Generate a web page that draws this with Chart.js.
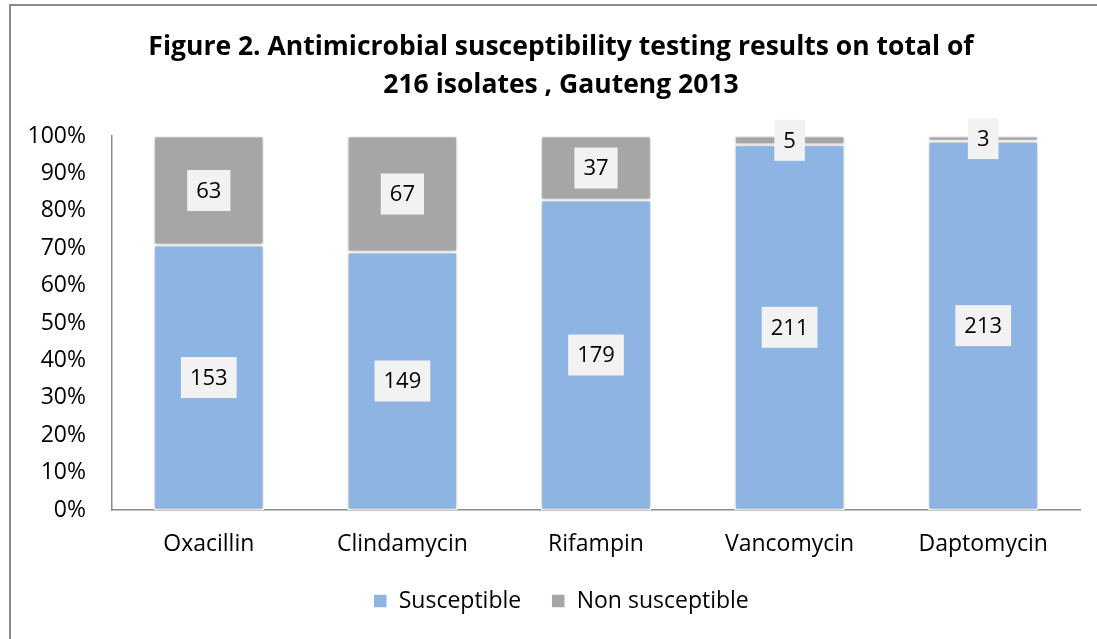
<!DOCTYPE html>
<html lang="en">
<head>
    <meta charset="UTF-8">
    <title>Figure 2</title>
    <script src="https://cdn.jsdelivr.net/npm/chart.js"></script>
    <style>
        body { margin: 0; background: #fff; font-family: 'Open Sans', sans-serif; }
        .wrap { position: relative; width: 1097px; height: 639px; overflow: hidden; }
        .frame { position: absolute; left: 9px; top: 4px; width: 1200px; height: 700px;
                 border-left: 2px solid #8a8a8a; border-top: 2px solid #8a8a8a; }
        canvas { position: absolute; left: 0; top: 0; }
    </style>
</head>
<body>
<div class="wrap">
    <div class="frame"></div>
    <canvas id="chart" width="1097" height="639"></canvas>
</div>
<script>
    const drugs = ['Oxacillin', 'Clindamycin', 'Rifampin', 'Vancomycin', 'Daptomycin'];
    const susceptible = [153, 149, 179, 211, 213];
    const nonSusceptible = [63, 67, 37, 5, 3];
    const totalIsolates = 216;
    const yTicks = [0, 10, 20, 30, 40, 50, 60, 70, 80, 90, 100];

    const pct = arr => arr.map(n => n / totalIsolates * 100);
    const counts = [susceptible, nonSusceptible];
    const FONT = "'Open Sans', sans-serif";

    // y labels are drawn "mirrored" so they are not clipped to the narrow axis box;
    // the widest label is measured so they still end 26px left of the axis line
    const meas = document.createElement('canvas').getContext('2d');
    meas.font = '23px ' + FONT;
    const widestTick = Math.max(...yTicks.map(v => meas.measureText(v + '%').width));

    // shadow behind the bars, like the office chart
    const barShadow = {
        id: 'barShadow',
        beforeDatasetsDraw(chart) {
            const c = chart.ctx;
            c.save();
            c.shadowColor = 'rgba(0,0,0,0.28)';
            c.shadowBlur = 4;
        },
        afterDatasetsDraw(chart) { chart.ctx.restore(); }
    };

    // count labels in light boxes at the middle of each segment
    const boxLabels = {
        id: 'boxLabels',
        afterDatasetsDraw(chart) {
            const c = chart.ctx;
            c.save();
            c.font = '22px ' + FONT;
            c.textAlign = 'center';
            c.textBaseline = 'middle';
            chart.data.datasets.forEach((ds, di) => {
                chart.getDatasetMeta(di).data.forEach((bar, i) => {
                    const txt = String(counts[di][i]);
                    const w = c.measureText(txt).width + 18;
                    const h = 41;
                    const cy = (bar.y + bar.base) / 2;
                    c.fillStyle = '#f2f2f2';
                    c.fillRect(bar.x - w / 2, cy - h / 2, w, h);
                    c.fillStyle = '#000';
                    c.fillText(txt, bar.x, cy + 1);
                });
            });
            c.restore();
        }
    };

    new Chart(document.getElementById('chart'), {
        type: 'bar',
        data: {
            labels: drugs,
            datasets: [
                { label: 'Susceptible', data: pct(susceptible), backgroundColor: '#8eb4e3', borderColor: '#fff', borderWidth: 1.5, borderSkipped: false },
                { label: 'Non susceptible', data: pct(nonSusceptible), backgroundColor: '#a6a6a6', borderColor: '#fff', borderWidth: 1.5, borderSkipped: false }
            ]
        },
        options: {
            responsive: false,
            animation: false,
            layout: { padding: { left: 42, right: 17, top: 0, bottom: 16.5 } },
            datasets: { bar: { categoryPercentage: 1, barPercentage: 0.57 } },
            plugins: {
                title: {
                    display: true,
                    text: ['Figure 2. Antimicrobial susceptibility testing results on total of', '216 isolates , Gauteng 2013'],
                    color: '#000',
                    font: { family: FONT, size: 26.5, weight: 'bold', lineHeight: 1.434 },
                    padding: { top: 28, bottom: 32 }
                },
                legend: {
                    position: 'bottom',
                    labels: {
                        color: '#000',
                        font: { family: FONT, size: 23 },
                        boxWidth: 14, boxHeight: 14, padding: 30
                    }
                },
                tooltip: { enabled: false }
            },
            scales: {
                x: {
                    stacked: true,
                    grid: { display: false, drawTicks: false },
                    border: { display: true, color: '#8a8a8a', width: 1.5 },
                    ticks: { color: '#000', font: { family: FONT, size: 23 }, padding: 21 },
                    afterFit: s => { s.height = 49.5; }
                },
                y: {
                    stacked: true,
                    min: 0, max: 100,
                    grid: { display: false, drawTicks: false },
                    border: { display: true, color: '#8a8a8a', width: 1.5 },
                    afterBuildTicks: s => { s.ticks = yTicks.map(v => ({ value: v })); },
                    ticks: {
                        color: '#000', font: { family: FONT, size: 23 },
                        mirror: true, crossAlign: 'far', padding: -26 - widestTick,
                        callback: v => v + '%'
                    },
                    afterFit: s => { s.width = 70; }
                }
            }
        },
        plugins: [barShadow, boxLabels]
    });
</script>
</body>
</html>
